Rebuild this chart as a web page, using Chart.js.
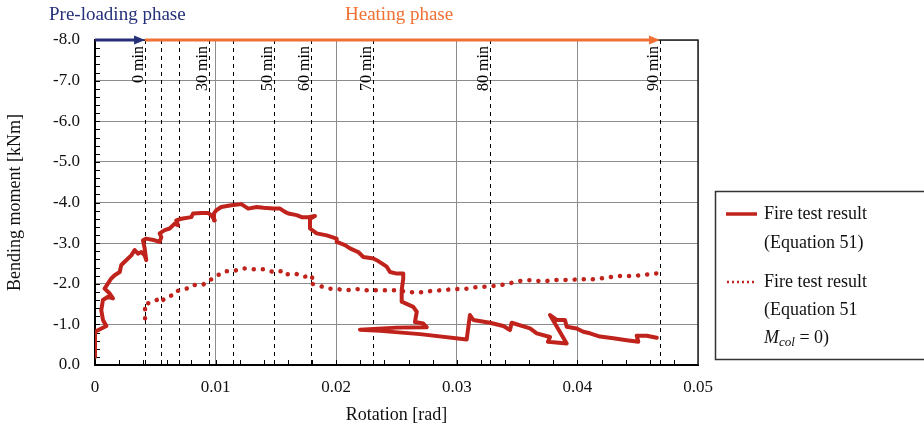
<!DOCTYPE html>
<html><head><meta charset="utf-8">
<script src="https://cdn.jsdelivr.net/npm/chart.js@4/dist/chart.umd.min.js"></script>
<style>html,body{margin:0;padding:0;background:#fff;overflow:hidden}#wrap{width:924px;height:432px;position:relative}</style>
</head><body><div id="wrap"><canvas id="c" width="924" height="432"></canvas></div>
<script>
// ---- data (rotation [rad], bending moment [kNm]) ----
const solidRot = [0,0,0,0.00094,0.00066,0.00052,0.00066,0.00108,0.00149,0.00122,0.00080,0.00108,0.00135,0.00163,0.00205,0.00218,0.00246,0.00274,0.00301,0.00329,0.00357,0.00384,0.00412,0.00425,0.00412,0.00398,0.00425,0.00495,0.00536,0.00550,0.00536,0.00578,0.00619,0.00661,0.00688,0.00674,0.00716,0.00799,0.00813,0.00881,0.00937,0.00964,0.00993,0.00987,0.01006,0.01047,0.01130,0.01213,0.01271,0.01341,0.01396,0.01478,0.01534,0.01575,0.01603,0.01672,0.01714,0.01769,0.01824,0.01783,0.01783,0.01838,0.01921,0.02004,0.02004,0.02073,0.02114,0.02183,0.02225,0.02308,0.02336,0.02419,0.02446,0.02502,0.02556,0.02556,0.02543,0.02543,0.02639,0.02668,0.02653,0.02722,0.02750,0.02502,0.02197,0.02363,0.02695,0.03082,0.03109,0.03137,0.03275,0.03386,0.03441,0.03455,0.03607,0.03663,0.03773,0.03756,0.03911,0.03773,0.03828,0.03897,0.03911,0.03994,0.04049,0.04104,0.04187,0.04298,0.04409,0.04505,0.04492,0.04575,0.04658];
const solidMoment = [-0.20,-0.61,-0.82,-0.96,-1.11,-1.35,-1.60,-1.68,-1.64,-1.76,-1.88,-2.01,-2.13,-2.21,-2.29,-2.46,-2.54,-2.62,-2.70,-2.83,-2.74,-2.78,-2.70,-2.58,-2.87,-3.07,-3.11,-3.07,-3.03,-3.15,-3.24,-3.32,-3.36,-3.48,-3.44,-3.56,-3.60,-3.64,-3.73,-3.74,-3.74,-3.69,-3.56,-3.73,-3.81,-3.89,-3.93,-3.96,-3.85,-3.89,-3.87,-3.85,-3.85,-3.77,-3.73,-3.69,-3.64,-3.64,-3.67,-3.60,-3.36,-3.24,-3.19,-3.11,-3.03,-2.95,-2.87,-2.78,-2.66,-2.62,-2.58,-2.42,-2.29,-2.25,-2.25,-2.13,-1.84,-1.56,-1.43,-1.31,-1.06,-1.02,-0.93,-0.92,-0.87,-0.84,-0.76,-0.63,-1.23,-1.11,-1.04,-0.96,-0.86,-1.04,-0.90,-0.78,-0.69,-0.57,-0.53,-1.23,-1.11,-1.11,-0.94,-0.90,-0.82,-0.78,-0.70,-0.66,-0.61,-0.57,-0.72,-0.72,-0.67];
const dottedRot = [0.00415,0.00415,0.00415,0.00442,0.00483,0.00539,0.00553,0.00595,0.00649,0.00663,0.00719,0.00788,0.00802,0.00843,0.00898,0.00940,0.00968,0.01009,0.01064,0.01092,0.01147,0.01230,0.01313,0.01396,0.01478,0.01520,0.01575,0.01590,0.01658,0.01700,0.01727,0.01783,0.01805,0.01783,0.01838,0.01893,0.01949,0.02004,0.02087,0.02170,0.02253,0.02336,0.02419,0.02515,0.02585,0.02668,0.02736,0.02805,0.02875,0.02944,0.03013,0.03082,0.03137,0.03206,0.03275,0.03331,0.03386,0.03427,0.03483,0.03551,0.03621,0.03676,0.03731,0.03787,0.03856,0.03966,0.04036,0.04118,0.04187,0.04284,0.04353,0.04450,0.04519,0.04616,0.04668];
const dottedMoment = [-1.15,-1.33,-1.52,-1.52,-1.56,-1.64,-1.57,-1.68,-1.72,-1.80,-1.86,-1.90,-1.95,-1.98,-1.98,-2.09,-2.11,-2.21,-2.25,-2.31,-2.31,-2.38,-2.36,-2.36,-2.29,-2.31,-2.31,-2.23,-2.25,-2.21,-2.17,-2.19,-2.19,-2.01,-1.97,-1.92,-1.88,-1.87,-1.84,-1.87,-1.84,-1.84,-1.84,-1.84,-1.80,-1.78,-1.80,-1.83,-1.84,-1.86,-1.87,-1.88,-1.91,-1.92,-1.94,-1.95,-1.98,-2.00,-2.05,-2.08,-2.09,-2.07,-2.06,-2.09,-2.09,-2.10,-2.11,-2.11,-2.13,-2.17,-2.19,-2.19,-2.21,-2.24,-2.26];
const minuteRot = [0.00415,0.0055,0.00699,0.00945,0.01142,0.01487,0.01789,0.02308,0.03275,0.04685];
const minuteLabels = ['0 min','','','30 min','','50 min','60 min','70 min','80 min','90 min'];
const legendLines1 = ['Fire test result','(Equation 51)'];
const legendLines2 = ['Fire test result','(Equation 51'];
const phaseLabels = ['Pre-loading phase','Heating phase'];

const RED = '#c0221c', NAVY = '#26307a', ORANGE = '#f07033';
const SERIF = '"Liberation Serif","Times New Roman",serif';
const toPts = (xs, ys) => xs.map((x, i) => ({x: x, y: ys[i]}));

const decor = {
  id: 'decor',
  beforeDatasetsDraw(chart) {
    const {ctx, chartArea: a, scales: {x, y}} = chart;
    ctx.save();
    // dashed minute lines
    ctx.strokeStyle = '#000'; ctx.lineWidth = 1; ctx.setLineDash([4, 4]);
    minuteRot.forEach(r => {
      const px = Math.round(x.getPixelForValue(r)) + 0.5;
      ctx.beginPath(); ctx.moveTo(px, a.top); ctx.lineTo(px, a.bottom); ctx.stroke();
    });
    ctx.setLineDash([]);
    // minor ticks
    ctx.lineWidth = 1;
    for (let v = 0.002; v < 0.05; v += 0.002) {
      const px = Math.round(x.getPixelForValue(v)) + 0.5;
      ctx.beginPath(); ctx.moveTo(px, a.bottom); ctx.lineTo(px, a.bottom - 5); ctx.stroke();
    }
    for (let v = -7.8; v < 0; v += 0.2) {
      const py = Math.round(y.getPixelForValue(v)) + 0.5;
      ctx.beginPath(); ctx.moveTo(a.left, py); ctx.lineTo(a.left + 5, py); ctx.stroke();
    }
    ctx.restore();
  },
  afterDraw(chart) {
    const {ctx, chartArea: a, scales: {x}} = chart;
    ctx.save();
    // right and top border
    ctx.strokeStyle = '#222'; ctx.lineWidth = 1.5;
    ctx.beginPath(); ctx.moveTo(a.left, a.top); ctx.lineTo(a.right, a.top); ctx.lineTo(a.right, a.bottom); ctx.stroke();
    // arrows
    const arrow = (x0, x1, col) => {
      ctx.strokeStyle = col; ctx.fillStyle = col; ctx.lineWidth = 3;
      ctx.beginPath(); ctx.moveTo(x0, a.top); ctx.lineTo(x1 - 8, a.top); ctx.stroke();
      ctx.beginPath(); ctx.moveTo(x1, a.top); ctx.lineTo(x1 - 11, a.top - 4.5); ctx.lineTo(x1 - 11, a.top + 4.5); ctx.closePath(); ctx.fill();
    };
    const p0 = x.getPixelForValue(minuteRot[0]);
    const pEnd = x.getPixelForValue(minuteRot[minuteRot.length - 1]);
    arrow(p0, pEnd, ORANGE);
    arrow(a.left, p0, NAVY);
    // phase labels
    ctx.font = '19px ' + SERIF; ctx.textBaseline = 'middle'; ctx.textAlign = 'left';
    ctx.fillStyle = NAVY; ctx.fillText(phaseLabels[0], 49, 15);
    ctx.fillStyle = ORANGE; ctx.fillText(phaseLabels[1], 345, 15);
    // minute labels
    ctx.fillStyle = '#000'; ctx.font = '16px ' + SERIF; ctx.textAlign = 'right'; ctx.textBaseline = 'alphabetic';
    minuteRot.forEach((r, i) => {
      if (!minuteLabels[i]) return;
      const px = x.getPixelForValue(r);
      ctx.save(); ctx.translate(px - 2, a.top + 6); ctx.rotate(-Math.PI / 2);
      ctx.fillText(minuteLabels[i], 0, 0); ctx.restore();
    });
    // legend box
    ctx.strokeStyle = '#333'; ctx.lineWidth = 1.5;
    ctx.strokeRect(715.5, 191.5, 220, 168);
    ctx.strokeStyle = RED; ctx.lineWidth = 3.5; ctx.lineCap = 'butt';
    ctx.beginPath(); ctx.moveTo(726, 214); ctx.lineTo(757, 214); ctx.stroke();
    ctx.lineWidth = 2.5; ctx.setLineDash([2, 3]);
    ctx.beginPath(); ctx.moveTo(727, 282); ctx.lineTo(757, 282); ctx.stroke();
    ctx.setLineDash([]);
    ctx.fillStyle = '#111'; ctx.font = '18px ' + SERIF; ctx.textAlign = 'left'; ctx.textBaseline = 'middle';
    ctx.fillText(legendLines1[0], 764, 214);
    ctx.fillText(legendLines1[1], 764, 243);
    ctx.fillText(legendLines2[0], 764, 282);
    ctx.fillText(legendLines2[1], 764, 310);
    ctx.font = 'italic 18px ' + SERIF; ctx.fillText('M', 764, 338);
    let w = ctx.measureText('M').width;
    ctx.font = 'italic 13px ' + SERIF; ctx.fillText('col', 764 + w, 343);
    w += ctx.measureText('col').width;
    ctx.font = '18px ' + SERIF; ctx.fillText(' = 0)', 764 + w, 338);
    ctx.restore();
  }
};

new Chart(document.getElementById('c'), {
  type: 'scatter',
  data: {
    datasets: [
      {label: 'Fire test result (Equation 51)', data: toPts(solidRot, solidMoment), showLine: true,
       borderColor: RED, borderWidth: 4, pointRadius: 0, borderJoinStyle: 'round', borderCapStyle: 'round', tension: 0},
      {label: 'Fire test result (Equation 51 Mcol = 0)', data: toPts(dottedRot, dottedMoment), showLine: true,
       borderColor: RED, borderWidth: 4.5, pointRadius: 0, borderDash: [0.1, 9], borderCapStyle: 'round', tension: 0}
    ]
  },
  options: {
    responsive: false, animation: false, devicePixelRatio: 1,
    layout: {padding: {left: 0, top: 40, right: 226, bottom: 0}},
    plugins: {legend: {display: false}, tooltip: {enabled: false}},
    scales: {
      x: {
        type: 'linear', min: 0, max: 0.05,
        afterFit: s => { s.height = 67; },
        ticks: {stepSize: 0.01, padding: 12, color: '#111', font: {family: SERIF, size: 17},
                callback: v => v === 0 ? '0' : Number(v).toFixed(2)},
        grid: {color: '#8c8c8c', lineWidth: 1, drawTicks: false},
        border: {color: '#000', width: 2},
        title: {display: true, text: 'Rotation [rad]', color: '#111', font: {family: SERIF, size: 18}, padding: {top: 0, bottom: 6}}
      },
      y: {
        type: 'linear', min: -8, max: 0, reverse: true,
        afterFit: s => { s.width = 95; },
        ticks: {stepSize: 1, padding: 15, color: '#111', font: {family: SERIF, size: 17},
                callback: v => Number(v).toFixed(1)},
        grid: {color: '#8c8c8c', lineWidth: 1, drawTicks: false},
        border: {color: '#000', width: 2},
        title: {display: true, text: 'Bending moment [kNm]', color: '#111', font: {family: SERIF, size: 18}, padding: {top: 4, bottom: 0}}
      }
    }
  },
  plugins: [decor]
});
</script></body></html>
